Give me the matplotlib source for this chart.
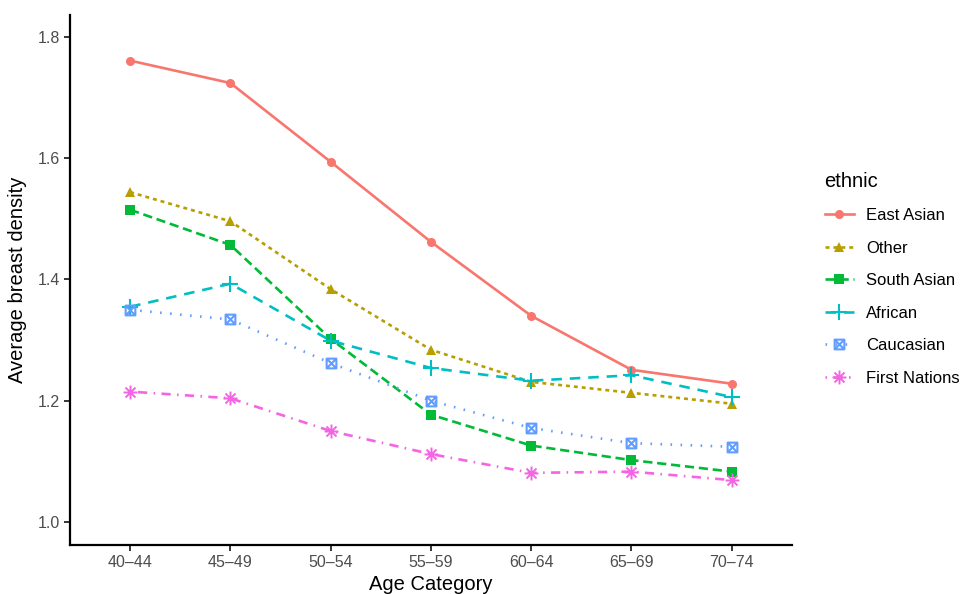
import matplotlib
matplotlib.use("Agg")
import matplotlib.pyplot as plt
from matplotlib.path import Path
import numpy as np

plt.rcParams['font.family'] = ['Liberation Sans', 'DejaVu Sans']

categories = ["40\u201344", "45\u201349", "50\u201354", "55\u201359", "60\u201364", "65\u201369", "70\u201374"]
groups = ["East Asian", "Other", "South Asian", "African", "Caucasian", "First Nations"]

east_asian    = [1.761, 1.724, 1.594, 1.462, 1.340, 1.251, 1.228]
other         = [1.544, 1.496, 1.384, 1.284, 1.231, 1.213, 1.195]
south_asian   = [1.515, 1.457, 1.302, 1.177, 1.126, 1.102, 1.083]
african       = [1.355, 1.393, 1.299, 1.254, 1.233, 1.242, 1.206]
caucasian     = [1.350, 1.334, 1.262, 1.200, 1.155, 1.130, 1.124]
first_nations = [1.215, 1.204, 1.150, 1.112, 1.081, 1.083, 1.069]

series = [east_asian, other, south_asian, african, caucasian, first_nations]
colors = ["#F8766D", "#B79F00", "#00BA38", "#00BFC4", "#619CFF", "#F564E3"]

# custom markers
box_x = Path([(-1, -1), (1, -1), (1, 1), (-1, 1), (-1, -1), (-1, -1), (1, 1), (-1, 1), (1, -1)],
             [Path.MOVETO, Path.LINETO, Path.LINETO, Path.LINETO, Path.CLOSEPOLY,
              Path.MOVETO, Path.LINETO, Path.MOVETO, Path.LINETO])
r = 0.72
aster = Path([(-1, 0), (1, 0), (0, -1), (0, 1), (-r, -r), (r, r), (-r, r), (r, -r)],
             [Path.MOVETO, Path.LINETO, Path.MOVETO, Path.LINETO,
              Path.MOVETO, Path.LINETO, Path.MOVETO, Path.LINETO])

styles = [
    dict(marker='o', ms=6.5, ls='-', mfc=None, mew=0),
    dict(marker='^', ms=7.5, dashes=(1.5, 1.5), mew=0),
    dict(marker='s', ms=6.5, dashes=(3.5, 1.8), mew=0),
    dict(marker='+', ms=11, dashes=(4, 3), mew=1.5),
    dict(marker=box_x, ms=7, dashes=(0.6, 3.2), mew=1.5, mfc='none'),
    dict(marker=aster, ms=10, dashes=(0.6, 2.4, 3.5, 2.4), mew=1.4),
]

fig = plt.figure(figsize=(9.6, 5.94), dpi=100)
ax = fig.add_axes([0.0729, 0.0825, 0.752, 0.892])

x = np.arange(len(categories))
for vals, name, c, st in zip(series, groups, colors, styles):
    kw = dict(color=c, lw=1.9, label=name, marker=st['marker'], markersize=st['ms'],
              markeredgewidth=st['mew'], markeredgecolor=c)
    if st.get('mfc') == 'none':
        kw['markerfacecolor'] = 'none'
    else:
        kw['markerfacecolor'] = c
    if 'dashes' in st:
        kw['dashes'] = st['dashes']
    else:
        kw['linestyle'] = '-'
    ax.plot(x, vals, **kw)

ax.set_xlim(-0.6, len(categories) - 0.4)
ax.set_ylim(0.962, 1.836)
ax.set_xticks(x)
ax.set_xticklabels(categories)
ax.set_yticks([1.0, 1.2, 1.4, 1.6, 1.8])
ax.set_yticklabels(["1.0", "1.2", "1.4", "1.6", "1.8"])
ax.tick_params(axis='both', colors='black', labelcolor='#4D4D4D', labelsize=11.5,
               length=4, width=1.1, pad=3)
for s in ['top', 'right']:
    ax.spines[s].set_visible(False)
for s in ['left', 'bottom']:
    ax.spines[s].set_linewidth(1.6)

ax.set_xlabel("Age Category", fontsize=14.5, labelpad=4)
ax.set_ylabel("Average breast density", fontsize=14.5, labelpad=8)

leg = fig.legend(loc='upper left', bbox_to_anchor=(0.8433, 0.736), frameon=False,
                 title="ethnic", fontsize=12, title_fontsize=14.5, handlelength=1.75,
                 labelspacing=1.05, handletextpad=0.75, alignment='left')

fig.savefig("out.png", dpi=100)
